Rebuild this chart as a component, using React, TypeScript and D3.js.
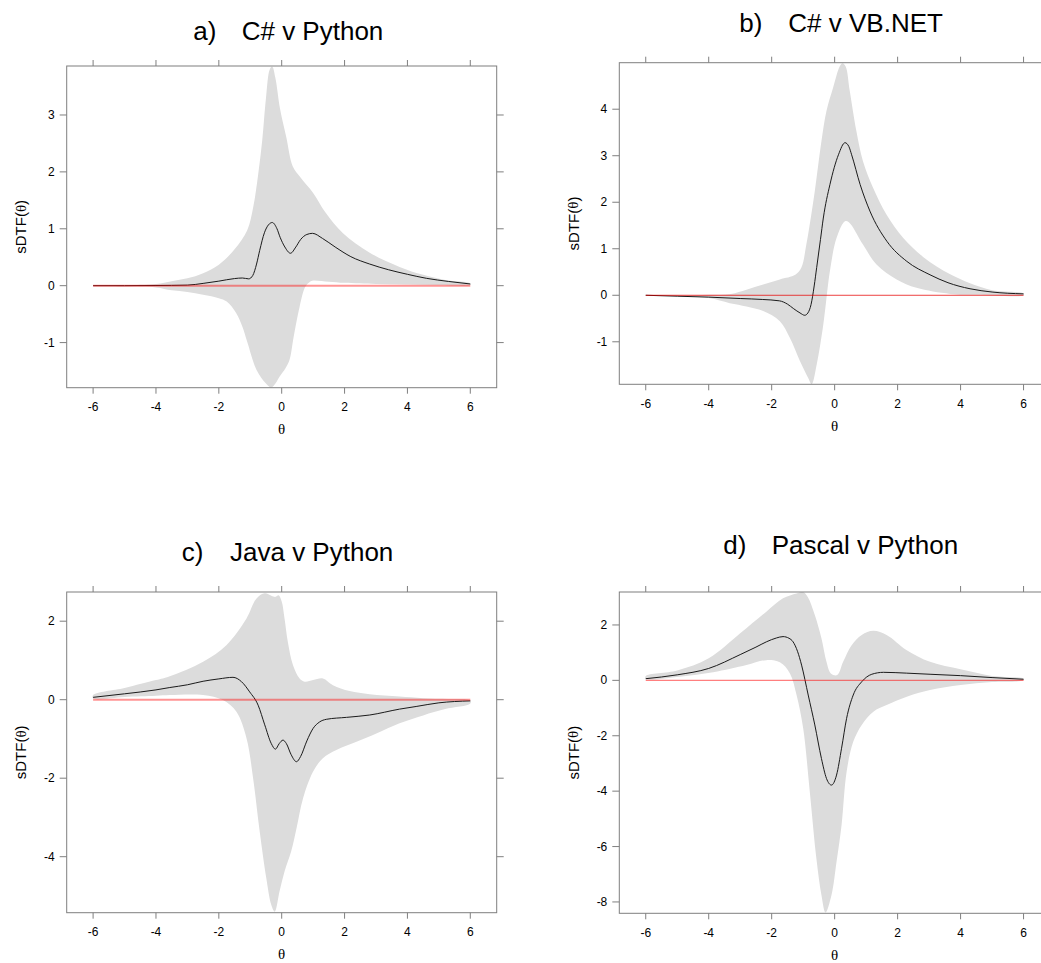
import React from "react";
import * as d3 from "d3";

// ---------- data ----------
const xTicks = [-6, -4, -2, 0, 2, 4, 6];

// a) C# v Python
const aMeanT = [-6, -5, -4, -3, -2.5, -2, -1.5, -1.25, -1.05, -0.92, -0.8, -0.7, -0.55, -0.42, -0.3, -0.15, -0.05, 0.1, 0.28, 0.45, 0.6, 0.8, 0.98, 1.3, 1.7, 2.2, 2.8, 3.4, 4, 4.6, 5.3, 6];
const aMeanV = [0, 0, 0.003, 0.01, 0.04, 0.08, 0.125, 0.135, 0.12, 0.18, 0.38, 0.62, 0.93, 1.07, 1.11, 1.0, 0.85, 0.68, 0.57, 0.68, 0.81, 0.9, 0.92, 0.83, 0.68, 0.51, 0.38, 0.28, 0.2, 0.13, 0.075, 0.03];
const aUpT = [-6, -5, -4, -3.5, -3, -2.5, -2, -1.5, -1.1, -0.9, -0.75, -0.62, -0.5, -0.38, -0.3, -0.2, -0.05, 0.15, 0.35, 0.6, 1.0, 1.4, 1.95, 2.8, 3.75, 4.5, 5.2, 6];
const aUpV = [0, 0.01, 0.03, 0.08, 0.13, 0.22, 0.37, 0.64, 0.97, 1.4, 1.95, 2.55, 3.3, 3.8, 3.85, 3.65, 3.1, 2.6, 2.1, 1.9, 1.63, 1.28, 0.92, 0.58, 0.33, 0.19, 0.1, 0.04];
const aLoT = [-6, -5, -4, -3.5, -3, -2.5, -2, -1.75, -1.45, -1.25, -1.1, -0.8, -0.5, -0.33, -0.2, -0.07, 0.12, 0.25, 0.38, 0.57, 0.75, 0.9, 1.0, 1.5, 2, 3, 4, 5, 6];
const aLoV = [0, -0.01, -0.03, -0.08, -0.11, -0.16, -0.22, -0.28, -0.48, -0.72, -0.98, -1.48, -1.72, -1.79, -1.72, -1.6, -1.45, -1.3, -0.9, -0.37, -0.02, 0.07, 0.09, 0.07, 0.05, 0.03, 0.02, 0.01, 0.01];
const aYTicks = [-1, 0, 1, 2, 3];

// b) C# v VB.NET
const bMeanT = [-6, -5, -4, -3, -2.3, -1.75, -1.5, -1.3, -1.1, -0.95, -0.85, -0.75, -0.65, -0.57, -0.45, -0.36, -0.15, 0.12, 0.33, 0.45, 0.54, 0.81, 1.12, 1.66, 2.29, 3.03, 3.6, 4.3, 5, 6];
const bMeanV = [0, -0.02, -0.04, -0.07, -0.09, -0.12, -0.19, -0.29, -0.38, -0.43, -0.38, -0.2, 0.2, 0.6, 1.2, 1.66, 2.38, 3.02, 3.28, 3.2, 3.02, 2.38, 1.81, 1.16, 0.73, 0.44, 0.27, 0.14, 0.07, 0.03];
const bUpT = [-6, -5, -4, -3.3, -2.8, -2.27, -1.74, -1.25, -1.06, -0.9, -0.75, -0.63, -0.42, -0.26, -0.05, 0.16, 0.25, 0.35, 0.48, 0.69, 0.9, 1.22, 1.65, 2.18, 2.82, 3.67, 4.3, 5, 6];
const bUpV = [0, 0, 0.01, 0.03, 0.12, 0.23, 0.34, 0.44, 0.59, 1.09, 1.7, 2.24, 3.31, 3.96, 4.46, 4.92, 4.99, 4.92, 4.39, 3.53, 2.88, 2.31, 1.73, 1.23, 0.82, 0.45, 0.26, 0.11, 0.04];
const bLoT = [-6, -5, -4, -3.33, -2.8, -2.27, -1.74, -1.42, -1.1, -0.84, -0.73, -0.57, -0.36, -0.15, 0.06, 0.33, 0.45, 0.9, 1.33, 1.97, 2.6, 3.67, 4.5, 6];
const bLoV = [0, -0.02, -0.06, -0.17, -0.24, -0.34, -0.56, -0.92, -1.42, -1.78, -1.91, -1.49, -0.63, 0.52, 1.23, 1.59, 1.57, 1.09, 0.66, 0.34, 0.16, 0.03, 0.01, 0];
const bYTicks = [-1, 0, 1, 2, 3, 4];

// c) Java v Python
const cMeanT = [-6, -5, -4, -3.56, -3, -2.5, -2, -1.55, -1.28, -1.02, -0.75, -0.54, -0.33, -0.2, -0.08, 0.04, 0.15, 0.3, 0.47, 0.6, 0.8, 1.0, 1.2, 1.42, 2.06, 2.8, 3.75, 4.3, 5, 6];
const cMeanV = [0.06, 0.15, 0.25, 0.31, 0.38, 0.47, 0.53, 0.57, 0.46, 0.2, -0.14, -0.64, -1.12, -1.26, -1.12, -1.03, -1.12, -1.4, -1.58, -1.45, -1.05, -0.73, -0.57, -0.5, -0.45, -0.39, -0.24, -0.17, -0.08, -0.03];
const cUpT = [-6, -5, -4, -3.56, -2.5, -1.76, -1.12, -0.8, -0.54, -0.33, -0.2, -0.1, 0, 0.09, 0.2, 0.36, 0.57, 0.73, 1.0, 1.31, 1.63, 2.16, 2.8, 3.75, 4.5, 5.3, 6];
const cUpV = [0.12, 0.3, 0.5, 0.6, 0.97, 1.39, 2.07, 2.58, 2.71, 2.65, 2.62, 2.66, 2.5, 2.07, 1.45, 0.88, 0.54, 0.46, 0.5, 0.54, 0.37, 0.22, 0.14, 0.08, 0.04, 0.02, -0.02];
const cLoT = [-6, -5, -4, -3.56, -2.5, -1.87, -1.44, -1.12, -0.91, -0.7, -0.49, -0.33, -0.22, -0.07, 0.09, 0.3, 0.47, 0.68, 1.0, 1.31, 1.74, 2.38, 3.01, 3.75, 4.5, 5.2, 6];
const cLoV = [0.03, 0.07, 0.1, 0.12, 0.12, -0.01, -0.31, -0.98, -2.0, -3.36, -4.55, -5.23, -5.4, -4.89, -4.38, -3.87, -3.28, -2.51, -1.83, -1.49, -1.28, -1.07, -0.86, -0.6, -0.4, -0.24, -0.1];
const cYTicks = [-4, -2, 0, 2];

// d) Pascal v Python
const dMeanT = [-6, -5, -4, -3, -2.5, -2.17, -1.85, -1.64, -1.45, -1.32, -1.18, -1.05, -0.84, -0.63, -0.42, -0.26, -0.1, 0.06, 0.22, 0.38, 0.59, 0.86, 1.18, 1.55, 2.29, 3.03, 4, 5, 6];
const dMeanV = [0.06, 0.2, 0.43, 0.93, 1.2, 1.39, 1.53, 1.58, 1.52, 1.39, 1.05, 0.55, -0.53, -1.61, -2.82, -3.54, -3.78, -3.42, -2.45, -1.37, -0.53, -0.05, 0.22, 0.29, 0.26, 0.22, 0.17, 0.1, 0.04];
const dUpT = [-6, -5, -4, -3, -2.17, -1.64, -1.21, -1.0, -0.85, -0.63, -0.42, -0.26, -0.12, 0.08, 0.27, 0.54, 0.86, 1.23, 1.65, 2.29, 3.03, 4, 5, 6];
const dUpV = [0.16, 0.36, 0.8, 1.7, 2.48, 2.96, 3.14, 3.19, 3.0, 2.36, 1.52, 0.67, 0.25, 0.19, 0.67, 1.27, 1.64, 1.79, 1.64, 1.09, 0.67, 0.4, 0.16, 0.06];
const dLoT = [-6, -4.92, -3.86, -2.8, -2.17, -1.74, -1.42, -1.21, -1.0, -0.79, -0.58, -0.42, -0.29, -0.1, 0.06, 0.22, 0.38, 0.59, 0.86, 1.23, 1.65, 2.29, 3.03, 4, 5, 6];
const dLoV = [0.05, 0.13, 0.29, 0.55, 0.73, 0.65, 0.25, -0.53, -1.73, -4.02, -6.43, -7.75, -8.38, -7.75, -6.55, -5.22, -3.3, -2.22, -1.61, -1.13, -0.89, -0.59, -0.35, -0.17, -0.06, 0];
const dYTicks = [-8, -6, -4, -2, 0, 2];

const zip = (t: number[], v: number[]) => t.map((x, i) => [x, v[i]] as [number, number]);

// ---------- layout ----------
type PanelCfg = {
  id: string;
  label: string;
  name: string;
  labelX: number;
  nameX: number;
  titleY: number;
  box: { l: number; r: number; t: number; b: number };
  yDomain: [number, number];
  yTicks: number[];
  mean: [number, number][];
  up: [number, number][];
  lo: [number, number][];
  red: { color: string; width: number };
};

const panels: PanelCfg[] = [
  {
    id: "a", label: "a)", name: "C# v Python", labelX: 193.3, nameX: 241.7, titleY: 39.5,
    box: { l: 66.7, r: 496.7, t: 66, b: 387.7 }, yDomain: [-1.793, 3.861], yTicks: aYTicks,
    mean: zip(aMeanT, aMeanV), up: zip(aUpT, aUpV), lo: zip(aLoT, aLoV),
    red: { color: "rgba(255,0,0,0.42)", width: 2 },
  },
  {
    id: "b", label: "b)", name: "C# v VB.NET", labelX: 739.3, nameX: 788.3, titleY: 32,
    box: { l: 619.3, r: 1050, t: 62.7, b: 384.3 }, yDomain: [-1.914, 5.0], yTicks: bYTicks,
    mean: zip(bMeanT, bMeanV), up: zip(bUpT, bUpV), lo: zip(bLoT, bLoV),
    red: { color: "rgba(230,0,0,0.75)", width: 1 },
  },
  {
    id: "c", label: "c)", name: "Java v Python", labelX: 181.7, nameX: 230, titleY: 561,
    box: { l: 66.7, r: 496.7, t: 592, b: 912.7 }, yDomain: [-5.427, 2.744], yTicks: cYTicks,
    mean: zip(cMeanT, cMeanV), up: zip(cUpT, cUpV), lo: zip(cLoT, cLoV),
    red: { color: "rgba(255,0,0,0.42)", width: 2 },
  },
  {
    id: "d", label: "d)", name: "Pascal v Python", labelX: 723.3, nameX: 771.7, titleY: 553.5,
    box: { l: 619.3, r: 1050, t: 592, b: 913.3 }, yDomain: [-8.41, 3.19], yTicks: dYTicks,
    mean: zip(dMeanT, dMeanV), up: zip(dUpT, dUpV), lo: zip(dLoT, dLoV),
    red: { color: "rgba(255,0,0,0.5)", width: 1.4 },
  },
];

const SANS = "'Liberation Sans', Arial, Helvetica, sans-serif";
const SERIF = "'Liberation Serif', 'DejaVu Serif', serif";
const AXIS = "#7f7f7f";

function Panel({ p }: { p: PanelCfg }) {
  const { l, r, t, b } = p.box;
  const x = d3.scaleLinear().domain([-6.84, 6.84]).range([l, r]);
  const y = d3.scaleLinear().domain(p.yDomain).range([b, t]);
  const line = d3.line<[number, number]>().x((d) => x(d[0])).y((d) => y(d[1])).curve(d3.curveMonotoneX);
  const poly = [...p.up, ...[...p.lo].reverse()];
  const band = d3.line<[number, number]>().x((d) => x(d[0])).y((d) => y(d[1])).curve(d3.curveCatmullRomClosed.alpha(0.5));
  const zero: [number, number][] = [[-6, 0], [6, 0]];
  const clipId = `clip-${p.id}`;
  const cy = (t + b) / 2;
  return (
    <g>
      <defs>
        <clipPath id={clipId}>
          <rect x={l} y={t} width={r - l} height={b - t} />
        </clipPath>
      </defs>
      <text x={p.labelX} y={p.titleY} fontFamily={SANS} fontSize={26} fill="#000">
        {p.label}
        <tspan x={p.nameX}>{p.name}</tspan>
      </text>
      <g clipPath={`url(#${clipId})`}>
        <path d={band(poly) || ""} fill="#dcdcdc" stroke="none" />
        <path d={line(p.mean) || ""} fill="none" stroke="#1a1a1a" strokeWidth={1} />
        <path d={line(zero) || ""} fill="none" stroke={p.red.color} strokeWidth={p.red.width} />
      </g>
      <rect x={l} y={t} width={r - l} height={b - t} fill="none" stroke={AXIS} strokeWidth={1} />
      {xTicks.map((v) => (
        <g key={`x${v}`}>
          <line x1={x(v)} x2={x(v)} y1={b} y2={b + 6} stroke={AXIS} />
          <line x1={x(v)} x2={x(v)} y1={t} y2={t - 6} stroke={AXIS} />
          <text x={x(v)} y={b + 19.5} textAnchor="middle" dominantBaseline="central" fontFamily={SANS} fontSize={12} fill="#000">
            {v}
          </text>
        </g>
      ))}
      {p.yTicks.map((v) => (
        <g key={`y${v}`}>
          <line x1={l - 7} x2={l} y1={y(v)} y2={y(v)} stroke={AXIS} />
          <line x1={r} x2={r + 7} y1={y(v)} y2={y(v)} stroke={AXIS} />
          <text x={l - 12} y={y(v)} textAnchor="end" dominantBaseline="central" fontFamily={SANS} fontSize={12} fill="#000">
            {v}
          </text>
        </g>
      ))}
      <text x={(x(-6.84) + x(6.84)) / 2} y={b + 41.5} textAnchor="middle" dominantBaseline="central" fontFamily={SERIF} fontSize={15} fill="#000">
        θ
      </text>
      <text
        transform={`translate(${l - 46},${cy}) rotate(-90)`}
        textAnchor="middle"
        dominantBaseline="central"
        fontFamily={SANS}
        fontSize={15}
        fill="#000"
      >
        sDTF(<tspan fontFamily={SERIF}>θ</tspan>)
      </text>
    </g>
  );
}

export default function App() {
  return (
    <svg
      width={1041}
      height={963}
      viewBox="0 0 1041 963"
      style={{ position: "absolute", left: 0, top: 0, background: "#fff", display: "block" }}
    >
      <rect x={0} y={0} width={1041} height={963} fill="#fff" />
      {panels.map((p) => (
        <Panel key={p.id} p={p} />
      ))}
    </svg>
  );
}
